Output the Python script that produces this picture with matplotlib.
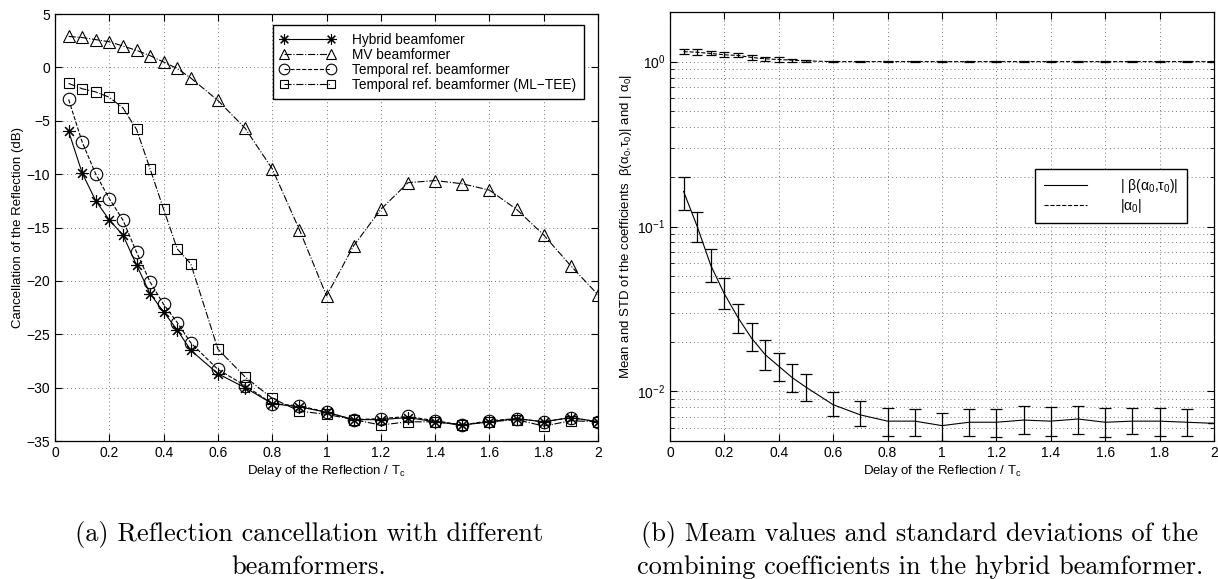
import numpy as np
import matplotlib.pyplot as plt

# ---- data ----
delay = [0.05, 0.1, 0.15, 0.2, 0.25, 0.3, 0.35, 0.4, 0.45, 0.5,
         0.6, 0.7, 0.8, 0.9, 1.0, 1.1, 1.2, 1.3, 1.4, 1.5,
         1.6, 1.7, 1.8, 1.9, 2.0]

hybrid = [-6.0, -9.9, -12.5, -14.3, -15.7, -18.5, -21.2, -22.9, -24.6, -26.5,
          -28.7, -30.0, -31.5, -31.8, -32.3, -33.0, -33.0, -32.8, -33.2, -33.5,
          -33.2, -32.9, -33.2, -32.8, -33.2]
mv = [2.9, 2.8, 2.6, 2.4, 2.0, 1.6, 1.1, 0.5, -0.1, -1.0,
      -3.1, -5.7, -9.5, -15.2, -21.4, -16.7, -13.3, -10.8, -10.6, -10.9,
      -11.5, -13.3, -15.7, -18.6, -21.3]
temporal = [-3.0, -7.0, -10.0, -12.3, -14.3, -17.3, -20.1, -22.2, -23.9, -25.8,
            -28.3, -29.8, -31.5, -31.7, -32.3, -33.0, -32.9, -32.7, -33.1, -33.5,
            -33.1, -32.9, -33.2, -32.8, -33.2]
mltee = [-1.5, -2.0, -2.3, -2.8, -3.8, -5.8, -9.5, -13.3, -17.0, -18.4,
         -26.4, -29.0, -31.0, -32.2, -32.5, -33.0, -33.5, -33.2, -33.2, -33.5,
         -33.2, -33.0, -33.6, -33.1, -33.2]

beta_mean = [0.163, 0.100, 0.058, 0.039, 0.028, 0.021, 0.0167, 0.0142, 0.0121, 0.0106,
             0.0083, 0.0072, 0.0066, 0.0066, 0.0062, 0.0065, 0.0065, 0.0067, 0.0066, 0.0068,
             0.0065, 0.0066, 0.0066, 0.0065, 0.0064]
beta_hi = [0.201, 0.123, 0.073, 0.0487, 0.034, 0.026, 0.0206, 0.0172, 0.0147, 0.0127,
           0.0099, 0.0087, 0.0079, 0.0078, 0.0074, 0.0078, 0.0078, 0.0081, 0.0080, 0.0081,
           0.0079, 0.0079, 0.0079, 0.0078, 0.0064]
beta_lo = [0.126, 0.080, 0.046, 0.0316, 0.0226, 0.0175, 0.0135, 0.0116, 0.0099, 0.0087,
           0.0071, 0.0062, 0.0054, 0.0054, 0.0050, 0.0054, 0.0053, 0.0055, 0.0054, 0.0055,
           0.0053, 0.0055, 0.0054, 0.0054, 0.0064]

alpha_mean = [1.15, 1.14, 1.12, 1.10, 1.09, 1.06, 1.04, 1.03, 1.02, 1.01,
              1.0, 1.0, 1.0, 1.0, 1.0, 1.0, 1.0, 1.0, 1.0, 1.0,
              1.0, 1.0, 1.0, 1.0, 1.0]
alpha_hi = [1.20, 1.19, 1.16, 1.14, 1.13, 1.10, 1.07, 1.06, 1.04, 1.025,
            1.01, 1.01, 1.01, 1.01, 1.01, 1.01, 1.01, 1.01, 1.01, 1.01,
            1.01, 1.01, 1.01, 1.01, 1.01]
alpha_lo = [1.11, 1.10, 1.09, 1.07, 1.06, 1.02, 1.01, 1.00, 0.995, 0.995,
            0.99, 0.99, 0.99, 0.99, 0.99, 0.99, 0.99, 0.99, 0.99, 0.99,
            0.99, 0.99, 0.99, 0.99, 0.99]

xticks = [0, 0.2, 0.4, 0.6, 0.8, 1, 1.2, 1.4, 1.6, 1.8, 2]
xticklabels = ['0', '0.2', '0.4', '0.6', '0.8', '1', '1.2', '1.4', '1.6', '1.8', '2']
yticks_a = [-35, -30, -25, -20, -15, -10, -5, 0, 5]

legend_a = ['Hybrid beamfomer', 'MV beamformer', 'Temporal ref. beamformer',
            'Temporal ref. beamformer (ML\u2212TEE)']
legend_b = ['| \u03b2(\u03b1$_0$,\u03c4$_0$)|', '|\u03b1$_0$|']

caption_a = ['(a) Reflection cancellation with different', 'beamformers.']
caption_b = ['(b) Meam values and standard deviations of the',
             'combining coefficients in the hybrid beamformer.']

plt.rcParams['font.family'] = ['Liberation Sans', 'DejaVu Sans']
plt.rcParams['axes.linewidth'] = 0.9
plt.rcParams['mathtext.fontset'] = 'custom'
plt.rcParams['mathtext.rm'] = 'Liberation Sans'

fig = plt.figure(figsize=(12.18, 5.79), dpi=100)
ax1 = fig.add_axes([0.0452, 0.2383, 0.4458, 0.7375])
ax2 = fig.add_axes([0.5501, 0.2383, 0.4466, 0.7410])

lw = 0.8
star = (8, 2, 0)  # matlab style asterisk
ax1.plot(delay, hybrid, '-', color='k', lw=lw, marker=star, ms=9, mew=0.8,
         label=legend_a[0])
ax1.plot(delay, mv, '-.', color='k', lw=lw, marker='^', ms=9, mfc='none', mew=0.8,
         label=legend_a[1])
ax1.plot(delay, temporal, '--', color='k', lw=lw, marker='o', ms=9, mfc='none', mew=0.8,
         label=legend_a[2])
ax1.plot(delay, mltee, '-.', color='k', lw=lw, marker='s', ms=7, mfc='none', mew=0.8,
         label=legend_a[3])

ax1.set_xlim(0, 2)
ax1.set_ylim(-35, 5)
ax1.set_xticks(xticks)
ax1.set_xticklabels(xticklabels)
ax1.set_yticks(yticks_a)
ax1.set_xlabel('Delay of the Reflection / T$_\\mathregular{c}$', fontsize=9.5, labelpad=2)
ax1.set_ylabel('Cancellation of the Reflection (dB)', fontsize=9.5, labelpad=2)
leg1 = ax1.legend(loc='upper right', bbox_to_anchor=(0.974, 0.974), borderaxespad=0,
                  numpoints=2, fontsize=9.8, fancybox=False, markerscale=0.85,
                  edgecolor='k', framealpha=1, handlelength=4.0, borderpad=0.55,
                  labelspacing=0.08, handletextpad=1.3)
leg1.get_frame().set_linewidth(1.0)

# right panel
ax2.errorbar(delay, beta_mean,
             yerr=[np.array(beta_mean) - np.array(beta_lo),
                   np.array(beta_hi) - np.array(beta_mean)],
             fmt='-', color='k', lw=lw, elinewidth=0.9, capsize=4, capthick=0.9,
             label=legend_b[0])
ax2.errorbar(delay, alpha_mean,
             yerr=[np.array(alpha_mean) - np.array(alpha_lo),
                   np.array(alpha_hi) - np.array(alpha_mean)],
             fmt='--', color='k', lw=lw, elinewidth=0.9, capsize=3.5, capthick=0.9,
             label=legend_b[1])
ax2.set_yscale('log')
ax2.set_xlim(0, 2)
ax2.set_ylim(0.005, 2)
ax2.set_xticks(xticks)
ax2.set_xticklabels(xticklabels)
ax2.set_xlabel('Delay of the Reflection / T$_\\mathregular{c}$', fontsize=9.5, labelpad=2)
ax2.set_ylabel('Mean and STD of the coefficients  \u03b2(\u03b1$_0$,\u03c4$_0$)| and | \u03b1$_0$|',
               fontsize=9.5, labelpad=2)
h, l = ax2.get_legend_handles_labels()
h = [x[0] for x in h]
leg2 = ax2.legend(h, l, loc='upper right', bbox_to_anchor=(0.950, 0.634), borderaxespad=0,
                  fontsize=10, fancybox=False, edgecolor='k', framealpha=1,
                  handlelength=3.1, handletextpad=2.4, borderpad=0.6, labelspacing=0.1)
leg2.get_frame().set_linewidth(1.0)

for ax in (ax1, ax2):
    ax.tick_params(which='both', direction='in', top=True, right=True, labelsize=10)
    ax.tick_params(which='major', length=5)
    ax.tick_params(which='minor', length=3)
    ax.set_axisbelow(True)
ax1.grid(True, linestyle=(0, (1, 3)), color='#777777', lw=0.7)
ax2.grid(True, which='major', linestyle=(0, (1, 3)), color='#777777', lw=0.7)
ax2.grid(True, which='minor', axis='y', linestyle=(0, (1, 3)), color='#777777', lw=0.7)

for x0, cap in ((0.2537, caption_a), (0.7553, caption_b)):
    fig.text(x0, 1 - 534 / 579, cap[0], ha='center', va='center', family='cmr10', fontsize=19)
    fig.text(x0, 1 - 567 / 579, cap[1], ha='center', va='center', family='cmr10', fontsize=19)

fig.savefig('out.png', dpi=100)
